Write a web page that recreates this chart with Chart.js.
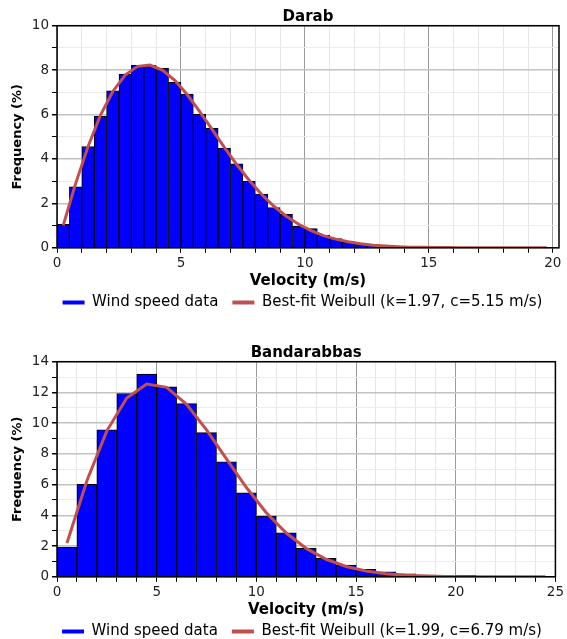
<!DOCTYPE html>
<html lang="en">
<head>
<meta charset="UTF-8">
<title>Wind speed distribution - Darab / Bandarabbas</title>
<script src="https://cdn.jsdelivr.net/npm/chart.js@4"></script>
<style>
    html, body {
        margin: 0;
        padding: 0;
        background: #fff;
        overflow: hidden;
    }
    body { width: 567px; height: 639px; position: relative; }
    canvas { position: absolute; left: 0; }
    #darab { top: 0; }
    #bandar { top: 336px; }
</style>
</head>
<body>
<canvas id="darab" width="567" height="336"></canvas>
<canvas id="bandar" width="567" height="322"></canvas>

<script>
// Darab - 0.5 m/s bins (bin centres)
const darabBins = [0.25, 0.75, 1.25, 1.75, 2.25, 2.75, 3.25, 3.75, 4.25, 4.75,
    5.25, 5.75, 6.25, 6.75, 7.25, 7.75, 8.25, 8.75, 9.25, 9.75,
    10.25, 10.75, 11.25, 11.75, 12.25, 12.75, 13.25, 13.75, 14.25, 14.75,
    15.25, 15.75, 16.25, 16.75, 17.25, 17.75, 18.25, 18.75, 19.25, 19.75]
const darabFreq = [1.06, 2.75, 4.56, 5.92, 7.07, 7.82, 8.22, 8.22, 8.08, 7.45,
    6.92, 6.01, 5.38, 4.49, 3.78, 2.99, 2.42, 1.81, 1.51, 0.98,
    0.86, 0.56, 0.42, 0.27, 0.18, 0.12, 0.08, 0.05, 0.06, 0.03,
    0.02, 0.01, 0.01, 0, 0, 0, 0, 0, 0, 0]
const darabFit = [1.01, 2.89, 4.55, 5.96, 7.04, 7.78, 8.17, 8.23, 8.00, 7.54,
    6.90, 6.14, 5.34, 4.52, 3.75, 3.04, 2.41, 1.87, 1.42, 1.06,
    0.77, 0.55, 0.39, 0.27, 0.18, 0.12, 0.08, 0.05, 0.03, 0.02,
    0.01, 0.01, 0, 0, 0, 0, 0, 0, 0, 0]

// Bandarabbas - 1 m/s bins
const bandarBins = [0.5, 1.5, 2.5, 3.5, 4.5, 5.5, 6.5, 7.5, 8.5, 9.5,
    10.5, 11.5, 12.5, 13.5, 14.5, 15.5, 16.5, 17.5, 18.5, 19.5,
    20.5, 21.5, 22.5, 23.5, 24.5]
const bandarFreq = [1.94, 6.02, 9.57, 11.93, 13.19, 12.36, 11.27, 9.38, 7.48, 5.47,
    3.95, 2.86, 1.85, 1.20, 0.76, 0.48, 0.33, 0.20, 0.11, 0.07,
    0.09, 0.03, 0.02, 0.01, 0.01]
const bandarFit = [2.20, 6.25, 9.50, 11.64, 12.55, 12.33, 11.22, 9.56, 7.67, 5.81,
    4.17, 2.85, 1.85, 1.14, 0.67, 0.38, 0.20, 0.10, 0.05, 0.02,
    0.01, 0, 0, 0, 0]

const xLabelEvery = 5   // numbered x ticks
const yLabelEvery = 2   // numbered y ticks

Chart.defaults.font.family = "'DejaVu Sans', sans-serif"
Chart.defaults.color = '#222'

const BLUE = '#0000ff'
const RED = '#c0504d'

// is this a numbered (major) tick?
function isMajor(c, every) {
    return c.tick ? c.tick.value % every === 0 : true
}

// black box round the plot
const frame = {
    id: 'frame',
    afterDraw(chart) {
        let a = chart.chartArea, ctx = chart.ctx
        ctx.save()
        ctx.strokeStyle = '#000'
        ctx.lineWidth = 1.5
        ctx.strokeRect(a.left, a.top, a.right - a.left, a.bottom - a.top)
        ctx.restore()
    }
}

// move the legend a bit, chart.js only centres it on the canvas
const nudge = {
    id: 'nudge',
    afterLayout(chart, args, opts) {
        let lg = chart.legend
        lg.left += opts.dx; lg.right += opts.dx
        lg.top += opts.dy; lg.bottom += opts.dy
    }
}

function makeChart(id, o) {
    let bars = o.bins.map((x, i) => ({x: x, y: o.freq[i]}))
    let fit = o.bins.map((x, i) => ({x: x, y: o.fit[i]}))

    return new Chart(document.getElementById(id), {
        type: 'bar',
        data: {
            datasets: [{
                type: 'bar',
                label: 'Wind speed data',
                data: bars,
                backgroundColor: BLUE,
                borderColor: '#000',
                borderWidth: 1,
                barPercentage: 1,
                categoryPercentage: 1,
                order: 1
            }, {
                type: 'line',
                label: o.fitLabel,
                data: fit,
                borderColor: RED,
                borderWidth: 3,
                pointRadius: 0,
                tension: 0,
                order: 0
            }]
        },
        options: {
            responsive: false,
            animation: false,
            layout: {padding: {left: 0, right: o.right, top: 0, bottom: o.bottom}},
            scales: {
                x: {
                    type: 'linear',
                    min: 0,
                    max: o.xMax,
                    offset: false,
                    border: {display: false},
                    grid: {
                        offset: false,
                        color: c => isMajor(c, xLabelEvery) ? '#9a9a9a' : '#e6e6e6',
                        tickColor: '#000',
                        tickLength: 5
                    },
                    ticks: {
                        stepSize: 1,
                        autoSkip: false,
                        includeBounds: false,
                        maxRotation: 0,
                        padding: 3,
                        font: {size: 13.5},
                        callback: v => v % xLabelEvery === 0 ? v : ''
                    },
                    title: {
                        display: true,
                        text: 'Velocity (m/s)',
                        color: '#000',
                        font: {size: 15, weight: 'bold'},
                        padding: {top: -3, bottom: 0}
                    }
                },
                y: {
                    min: 0,
                    max: o.yMax,
                    border: {display: false},
                    afterFit: s => { s.width = 57 },
                    grid: {
                        color: c => isMajor(c, yLabelEvery) ? '#c2c2c2' : '#ececec',
                        lineWidth: c => isMajor(c, yLabelEvery) ? 1.5 : 1,
                        tickColor: '#000',
                        tickLength: 5
                    },
                    ticks: {
                        stepSize: 1,
                        autoSkip: false,
                        padding: 3,
                        font: {size: 13.5},
                        callback: v => v % yLabelEvery === 0 ? v : ''
                    },
                    title: {
                        display: true,
                        text: 'Frequency (%)',
                        color: '#000',
                        font: {size: 13, weight: 'bold'},
                        padding: {top: 10, bottom: 0}
                    }
                }
            },
            plugins: {
                title: {
                    display: true,
                    text: o.title,
                    fullSize: false,
                    color: '#000',
                    font: {size: 15, weight: 'bold'},
                    padding: {top: 7.7, bottom: 0}
                },
                legend: {
                    position: 'bottom',
                    labels: {
                        boxWidth: 22,
                        boxHeight: 4,
                        padding: 14,
                        color: '#111',
                        font: {size: 15},
                        generateLabels: chart => chart.data.datasets.map((ds, i) => ({
                            text: ds.label,
                            fillStyle: i === 0 ? BLUE : RED,
                            strokeStyle: i === 0 ? BLUE : RED,
                            lineWidth: 0,
                            datasetIndex: i,
                            hidden: false
                        }))
                    }
                },
                tooltip: {enabled: false},
                nudge: {dx: 23, dy: -9}
            }
        },
        plugins: [frame, nudge]
    })
}

makeChart('darab', {
    title: 'Darab',
    bins: darabBins, freq: darabFreq, fit: darabFit,
    fitLabel: 'Best-fit Weibull (k=1.97, c=5.15 m/s)',
    xMax: 20.25, yMax: 10,
    right: 8, bottom: 7
})

makeChart('bandar', {
    title: 'Bandarabbas',
    bins: bandarBins, freq: bandarFreq, fit: bandarFit,
    fitLabel: 'Best-fit Weibull (k=1.99, c=6.79 m/s)',
    xMax: 25, yMax: 14,
    right: 9, bottom: 0
})
</script>
</body>
</html>
